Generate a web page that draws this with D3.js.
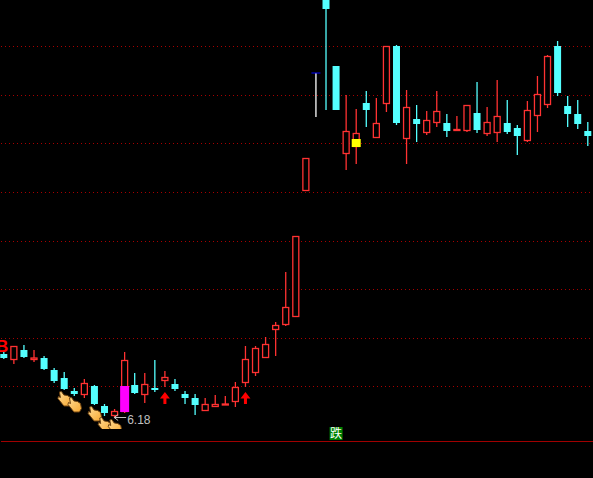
<!DOCTYPE html>
<html><head><meta charset="utf-8">
<script src="https://cdn.jsdelivr.net/npm/d3@7/dist/d3.min.js"></script>
<style>html,body{margin:0;padding:0;background:#000;overflow:hidden}svg{display:block}</style>
</head><body><div id="chart"></div>
<script>
const opens=[7.46,7.34,7.54,7.34,7.38,7.14,6.98,6.72,6.64,6.82,6.42,6.22,6.30,6.84,6.64,6.78,6.92,6.86,6.66,6.58,6.32,6.40,6.44,6.50,6.88,7.08,7.38,7.94,8.04,8.20,10.72,13.08,14.54,13.22,11.46,11.60,12.48,11.78,12.46,13.62,11.76,12.16,11.88,12.08,12.08,11.92,11.92,12.28,11.86,11.88,12.08,11.98,11.72,12.22,12.44,13.62,12.42,12.26,11.92];
const closes=[7.38,7.62,7.40,7.39,7.16,6.92,6.76,6.66,6.88,6.46,6.28,6.32,7.34,6.68,6.86,6.74,7.00,6.76,6.58,6.44,6.46,6.46,6.47,6.80,7.36,7.58,7.66,8.04,8.40,9.82,11.38,13.08,14.36,12.34,11.92,11.88,12.34,12.08,13.62,12.08,12.40,12.06,12.14,12.32,11.92,11.96,12.44,11.94,12.10,12.22,11.90,11.82,12.34,12.66,13.42,12.68,12.26,12.06,11.82];
const highs=[7.51,7.62,7.64,7.54,7.42,7.18,7.10,6.78,6.96,6.84,6.46,6.36,7.50,7.08,7.08,7.34,7.12,6.96,6.72,6.66,6.58,6.64,6.62,6.90,7.62,7.62,7.80,8.10,9.10,9.82,11.38,13.08,14.54,13.22,12.64,12.36,12.72,12.58,13.62,13.64,12.74,12.44,12.32,12.72,12.26,12.22,12.44,12.90,12.40,12.94,12.54,12.04,12.52,13.02,13.44,13.72,12.62,12.54,12.10];
const lows=[7.36,7.26,7.38,7.30,7.14,6.88,6.74,6.62,6.58,6.44,6.22,6.18,6.28,6.66,6.48,6.70,6.80,6.72,6.46,6.24,6.32,6.40,6.44,6.40,6.80,7.02,7.38,7.42,8.02,8.20,10.72,12.20,12.34,12.34,11.14,11.26,12.00,11.78,12.30,12.04,11.26,11.70,11.84,12.00,11.80,11.92,11.90,11.88,11.82,11.70,11.86,11.44,11.70,11.90,12.38,12.62,12.00,11.96,11.62];
const gridLevels=[6.82,7.79,8.76,9.73,10.71,11.68,12.65,13.62];
const handIndexes=[6,7,9,10,11];
const arrowIndexes=[16,24];
const arrowPrice=6.70;
const highlightIndexes=[12,35];
const highlightTops=[6.82,11.76];
const highlightBottoms=[6.30,11.60];
const highlightColors=["#ff00ff","#ffff00"];
const lowLabel="6.18", lowIndex=11, lowPrice=6.18;
const signalB="B", signalFall="跌", fallIndex=33;

const W=593,H=478,RED="#ff3232",CYAN="#54ffff",GRID="#a80000";
const x=d3.scalePoint().domain(d3.range(opens.length)).range([3.8,587.8]);
const y=d3.scaleLinear().domain([14.54,4.98]).range([0,H]);
const svg=d3.select("#chart").append("svg").attr("width",W).attr("height",H).style("background","#000");

const defs=svg.append("defs");
defs.append("clipPath").attr("id","plot").append("rect").attr("x",0).attr("y",0).attr("width",W).attr("height",429);
const grad=defs.append("linearGradient").attr("id","skin").attr("x1",0).attr("y1",0).attr("x2",1).attr("y2",1);
grad.append("stop").attr("offset","0").attr("stop-color","#ffdc98");
grad.append("stop").attr("offset","1").attr("stop-color","#f8a830");

const grid=svg.append("g").attr("transform","translate(1,0)")
  .call(d3.axisLeft(y).tickValues(gridLevels).tickSize(-W).tickFormat(""));
grid.select(".domain").remove();
grid.selectAll("line").attr("stroke",GRID).attr("stroke-dasharray","1,3").attr("shape-rendering","crispEdges");

const base=svg.append("g").attr("transform","translate(0,441)")
  .call(d3.axisBottom(d3.scaleLinear().range([0,W])).tickValues([]).tickSizeOuter(0));
base.select(".domain").attr("stroke","#a00000").attr("shape-rendering","crispEdges");

const idx=d3.range(opens.length);
const g=svg.append("g");
const colorOf=i=>closes[i]===opens[i]?"#ffffff":closes[i]>opens[i]?RED:CYAN;

g.selectAll("line.wick").data(idx).join("line").attr("class","wick")
  .attr("x1",i=>x(i)).attr("x2",i=>x(i))
  .attr("y1",i=>y(highs[i])).attr("y2",i=>y(lows[i]))
  .attr("stroke",colorOf).attr("stroke-width",1.3);

g.selectAll("rect.up").data(idx.filter(i=>closes[i]>opens[i])).join("rect").attr("class","up")
  .attr("x",i=>x(i)-3).attr("width",6)
  .attr("y",i=>y(closes[i])+.5).attr("height",i=>Math.max(1,y(opens[i])-y(closes[i])-1))
  .attr("fill","#000").attr("stroke",RED).attr("stroke-width",1.3);

g.selectAll("rect.down").data(idx.filter(i=>closes[i]<opens[i])).join("rect").attr("class","down")
  .attr("x",i=>x(i)-3.5).attr("width",7)
  .attr("y",i=>y(opens[i])).attr("height",i=>y(closes[i])-y(opens[i]))
  .attr("fill",CYAN);

g.selectAll("line.doji").data(idx.filter(i=>closes[i]===opens[i])).join("line").attr("class","doji")
  .attr("x1",i=>x(i)-4.5).attr("x2",i=>x(i)+4.5)
  .attr("y1",i=>y(opens[i])).attr("y2",i=>y(opens[i]))
  .attr("stroke","#0000ff");

g.selectAll("rect.mark").data(highlightIndexes).join("rect").attr("class","mark")
  .attr("x",i=>x(i)-4.5).attr("width",9)
  .attr("y",(i,k)=>y(highlightTops[k])).attr("height",(i,k)=>y(highlightBottoms[k])-y(highlightTops[k]))
  .attr("fill",(i,k)=>highlightColors[k]);

// hand cursors
const handPath="M2 1 L4 0.5 L6.5 4 L10 4.5 L13 6.5 L14 11.5 L12 15 L6.5 15 L4.5 12.5 L0.5 7.5 L1 5.5 L3 6.5 Z";
const hands=svg.append("g").attr("clip-path","url(#plot)");
hands.selectAll("path").data(handIndexes).join("path")
  .attr("transform",i=>`translate(${x(i)-6.8},${y(lows[i])+1})`)
  .attr("d",handPath).attr("fill","url(#skin)").attr("stroke","#6e4210").attr("stroke-width",1);

// red up arrows
const arrows=svg.append("g");
arrows.selectAll("path").data(arrowIndexes).join("path")
  .attr("transform",i=>`translate(${x(i)},${y(arrowPrice)})`)
  .attr("d","M0 0 L5 6.5 L1.5 6.5 L1.5 12 L-1.5 12 L-1.5 6.5 L-5 6.5 Z").attr("fill","#ff0000");

// low price annotation
const lx=x(lowIndex)-.4, ly=y(lowPrice)-.5;
svg.append("path").attr("d",`M${lx} ${ly} L${lx+4} ${ly-3} M${lx} ${ly} L${lx+4} ${ly+3} M${lx} ${ly} L${lx+12} ${ly}`)
  .attr("stroke","#c0c0c0").attr("fill","none");
svg.append("text").attr("x",lx+13).attr("y",ly+6).text(lowLabel)
  .attr("fill","#c0c0c0").attr("font-family","'Liberation Sans',Arial,sans-serif").attr("font-size",12);

svg.append("text").attr("x",-4).attr("y",352).text(signalB).attr("fill","#ff0000")
  .attr("font-family","'Liberation Sans',Arial,sans-serif").attr("font-weight","bold").attr("font-size",17);

const fx=x(fallIndex);
svg.append("rect").attr("x",fx-6.5).attr("y",427).attr("width",13).attr("height",13).attr("fill","#008000");
svg.append("text").attr("x",fx).attr("y",438).attr("text-anchor","middle").text(signalFall)
  .attr("fill","#fff").attr("font-family","'Noto Sans CJK SC',sans-serif").attr("font-size",12);
</script></body></html>
